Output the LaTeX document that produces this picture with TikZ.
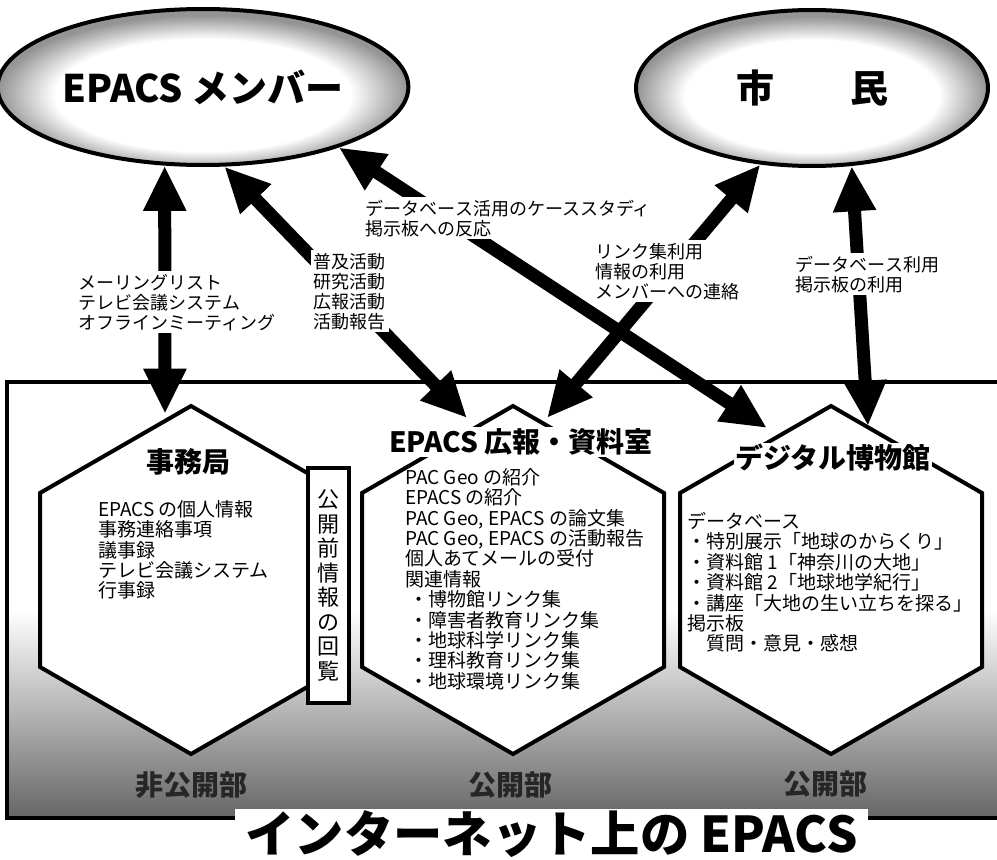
\documentclass[tikz,border=0pt]{standalone}
\usepackage{fontspec}
\setmainfont{Noto Sans CJK JP}
\usetikzlibrary{shapes.geometric,arrows.meta}

\pgfdeclareradialshading{rimshade}{\pgfpoint{0bp}{-4bp}}{color(0bp)=(white); color(18bp)=(white); color(25bp)=(black!42); color(50bp)=(black!42)}

\tikzset{
  people/.style={ellipse, draw, shade, shading=rimshade, line width=3pt,
    minimum width=264pt, minimum height=117pt,
    font=\fontsize{28.5}{30}\selectfont\bfseries},
  link/.style={line width=9.75pt, >={Triangle[length=34pt,width=30pt]}, <->},
  linklabel/.style={fill=white, align=left, inner sep=2pt, anchor=north west,
    font=\fontsize{13.5}{15}\selectfont},
  hexline/.style={draw, fill=white, line width=3pt, line join=miter},
  hextitle/.style={fill=white, inner sep=1pt, font=\fontsize{21}{22}\selectfont\bfseries},
  hexbody/.style={align=left, anchor=north west, inner sep=0pt,
    font=\fontsize{14.25}{15.3}\selectfont},
  part/.style={text=black!85, font=\fontsize{21}{22}\selectfont\bfseries},
}

\begin{document}
\begin{tikzpicture}[x=0.75pt,y=-0.75pt]
\useasboundingbox (0,0) rectangle (997,860);

% the frame of the internet part
\fill[white] (7,382) rectangle (997,818);
\shade[top color=white, bottom color=black!60] (7,610) rectangle (997,818);
\draw[line width=3pt] (997,382) -- (7,382) -- (7,818) -- (997,818);

% three rooms
\foreach \cx in {191,513,831}
  \draw[hexline] (\cx,406) -- ++(151,87) -- ++(0,174) -- ++(-151,87) -- ++(-151,-87) -- ++(0,-174) -- cycle;

\node[hextitle, fill=none] (office) at (188,462) {事務局};
\node[hexbody] (officetext) at (98,500) {EPACS の個人情報\\事務連絡事項\\議事録\\テレビ会議システム\\行事録};

\node[hextitle] (press) at (521,442) {EPACS 広報・資料室};
\node[hexbody] (presstext) at (405,468) {PAC Geo の紹介\\EPACS の紹介\\PAC Geo, EPACS の論文集\\PAC Geo, EPACS の活動報告\\個人あてメールの受付\\関連情報\\\hspace{3pt}・博物館リンク集\\\hspace{3pt}・障害者教育リンク集\\\hspace{3pt}・地球科学リンク集\\\hspace{3pt}・理科教育リンク集\\\hspace{3pt}・地球環境リンク集};

\node[hextitle] (museum) at (833,458) {デジタル博物館};
\node[hexbody] (museumtext) at (687,512) {データベース\\・特別展示「地球のからくり」\\・資料館 1「神奈川の大地」\\・資料館 2「地球地学紀行」\\・講座「大地の生い立ちを探る」\\掲示板\\　質問・意見・感想};

\node[draw, fill=white, line width=3pt, minimum width=30.75pt, minimum height=176pt,
  inner sep=0pt, align=center, font=\fontsize{16.5}{18.4}\selectfont] (notice) at (328,585.5)
  {公\\開\\前\\情\\報\\の\\回\\覧};

\node[part] (closedpart) at (191,785) {非公開部};
\node[part] (openpart) at (510,785) {公開部};
\node[part] (openpart2) at (825,784) {公開部};

\node[fill=white, minimum width=475pt, minimum height=38pt, inner sep=0pt,
  font=\fontsize{37}{38}\selectfont\bfseries] (title) at (551.5,834.5) {インターネット上の EPACS};

% the two groups of people
\node[people] (member) at (203,87) {EPACS メンバー};
\node[people] (citizen) at (812,88) {市　　民};

\coordinate (officein) at (165,414);
\coordinate (pressin) at (467,418);
\coordinate (pressin2) at (547,418);
\coordinate (museumin) at (767,428);
\coordinate (museumin2) at (868,426);

\draw[link] (member.244) -- (officein);
\draw[link] (member.285) -- (pressin);
\draw[link] (member.336) -- (museumin);
\draw[link] (citizen.236) -- (pressin2);
\draw[link] (citizen.297) -- (museumin2);

\node[linklabel] (mail) at (76,271) {メーリングリスト\\テレビ会議システム\\オフラインミーティング};
\node[linklabel] (activity) at (311,250) {普及活動\\研究活動\\広報活動\\活動報告};
\node[linklabel] (casestudy) at (363,197) {データベース活用のケーススタディ\\掲示板への反応};
\node[linklabel] (links) at (593,240) {リンク集利用\\情報の利用\\メンバーへの連絡};
\node[linklabel] (dbuse) at (793,253) {データベース利用\\掲示板の利用};
\end{tikzpicture}
\end{document}
